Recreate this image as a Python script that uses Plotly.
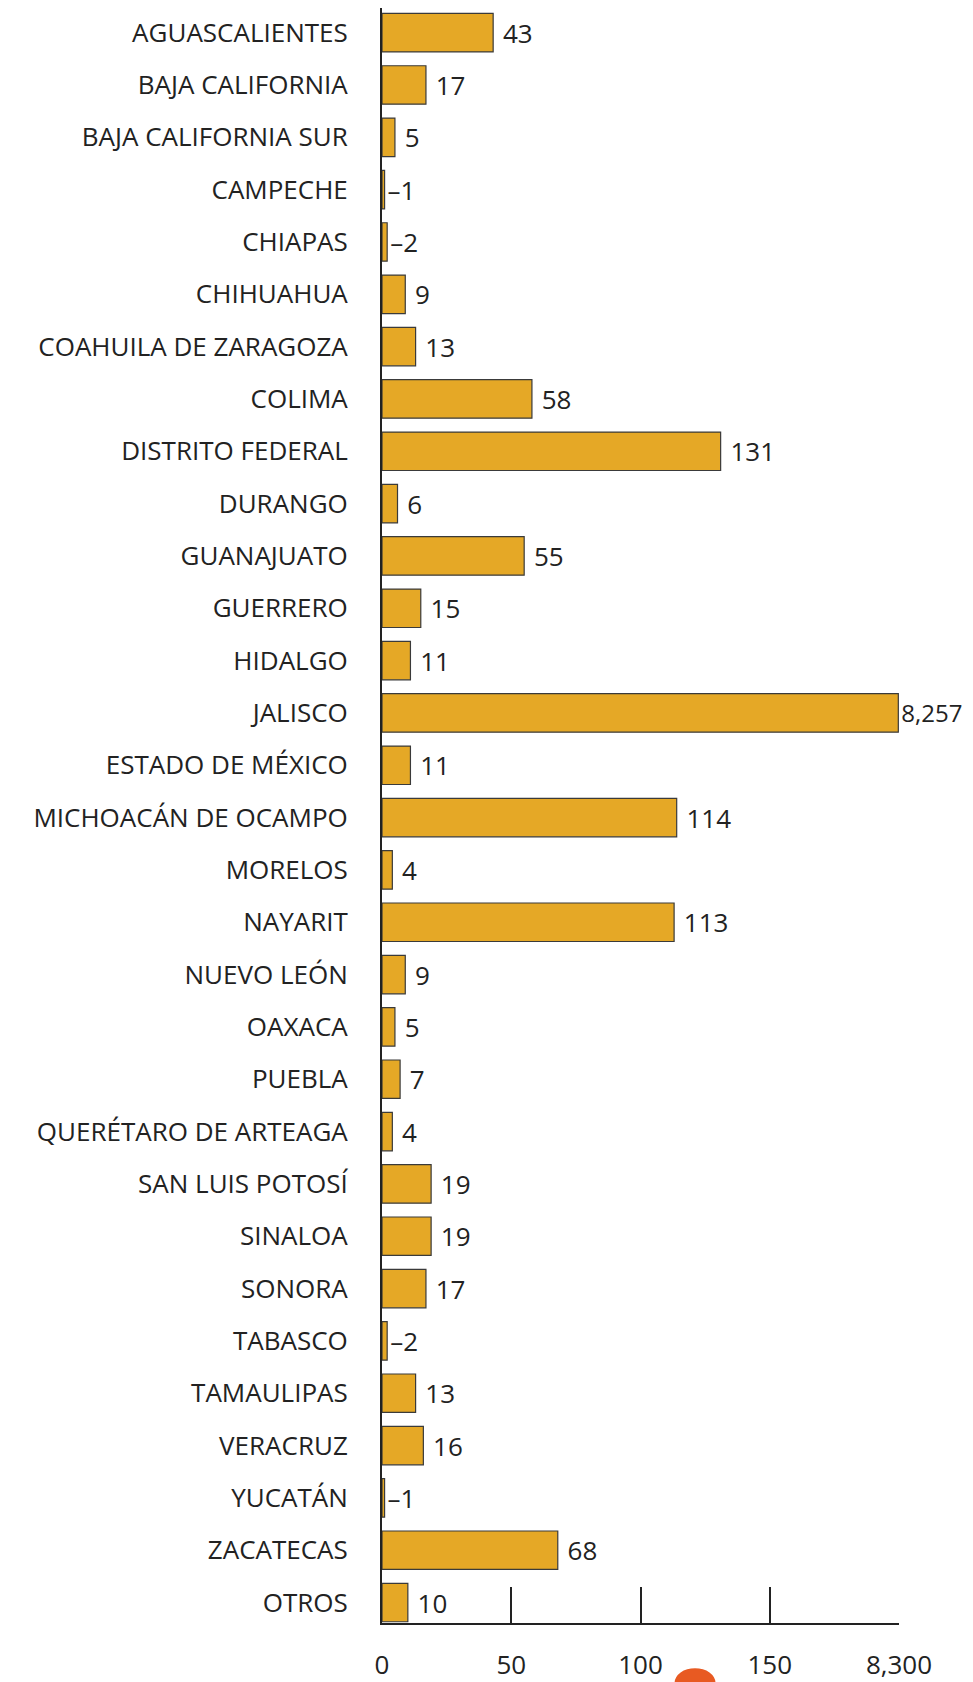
import plotly.graph_objects as go

states = ["AGUASCALIENTES", "BAJA CALIFORNIA", "BAJA CALIFORNIA SUR", "CAMPECHE", "CHIAPAS",
          "CHIHUAHUA", "COAHUILA DE ZARAGOZA", "COLIMA", "DISTRITO FEDERAL", "DURANGO",
          "GUANAJUATO", "GUERRERO", "HIDALGO", "JALISCO", "ESTADO DE MÉXICO",
          "MICHOACÁN DE OCAMPO", "MORELOS", "NAYARIT", "NUEVO LEÓN", "OAXACA",
          "PUEBLA", "QUERÉTARO DE ARTEAGA", "SAN LUIS POTOSÍ", "SINALOA", "SONORA",
          "TABASCO", "TAMAULIPAS", "VERACRUZ", "YUCATÁN", "ZACATECAS", "OTROS"]
values = [43, 17, 5, 1, 2, 9, 13, 58, 131, 6, 55, 15, 11, 8257, 11, 114, 4, 113, 9, 5,
          7, 4, 19, 19, 17, 2, 13, 16, 1, 68, 10]

tick_vals = [0, 50, 100, 150, 8300]
tick_text = ["0", "50", "100", "150", "8,300"]

BREAK = 150      # axis is linear up to here
TOP = 8300       # last tick value
SEG = 50         # display width of the compressed segment


def to_axis(v):
    if v <= BREAK:
        return v
    return BREAK + (v - BREAK) / (TOP - BREAK) * SEG


def label(v):
    if v <= 2:
        return "–" + f"{v:,}"
    if v > BREAK:
        return f"{v:,}"
    return "\u00a0" + f"{v:,}"


disp = [to_axis(v) for v in values]
labels = [label(v) for v in values]
label_sizes = [24 if v > BREAK else 26 for v in values]

FONT = "Open Sans"
INK = "#222222"

fig = go.Figure()
fig.add_trace(go.Bar(
    y=states, x=disp, orientation="h",
    marker=dict(color="#E5A826", line=dict(color="#3a3a3a", width=1.2)),
    text=labels, textposition="outside", cliponaxis=False,
    textfont=dict(family=FONT, size=label_sizes, color=INK),
    hoverinfo="skip",
))

fig.update_layout(
    width=973, height=1674,
    margin=dict(l=374, r=82, t=0, b=56),
    paper_bgcolor="white", plot_bgcolor="white",
    showlegend=False, bargap=0.265,
    font=dict(family=FONT, size=26, color=INK),
)
fig.update_xaxes(
    range=[0, to_axis(TOP)],
    tickvals=[to_axis(v) for v in tick_vals], ticktext=tick_text,
    ticks="inside", ticklen=36, tickwidth=2, tickcolor=INK,
    showline=True, linecolor=INK, linewidth=2,
    showgrid=False, zeroline=False, ticklabelstandoff=18,
    tickfont=dict(family=FONT, size=26, color=INK),
)
fig.update_yaxes(
    autorange=False, range=[30.391, -0.471],
    showline=True, linecolor=INK, linewidth=2,
    ticks="", showgrid=False, zeroline=False, ticklabelstandoff=27,
    tickfont=dict(family=FONT, size=26, color=INK),
)

# orange marker blot near the bottom axis labels
fig.add_shape(type="circle", xref="paper", yref="paper",
              x0=0.566, x1=0.645, y0=-0.046, y1=-0.028,
              fillcolor="#E85A22", line=dict(width=0))

fig.write_html("out.html")
